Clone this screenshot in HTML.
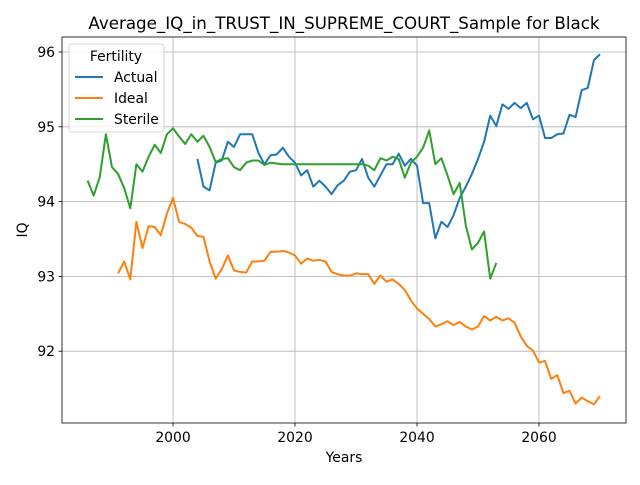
<!DOCTYPE html>
<html><head><meta charset="utf-8"><style>body{margin:0;background:#fff}svg{font-family:"DejaVu Sans","Liberation Sans",sans-serif}</style></head>
<body>
<svg id="chart" width="640" height="480" xmlns="http://www.w3.org/2000/svg"></svg>
<script>
const sterileYears=[1986,1987,1988,1989,1990,1991,1992,1993,1994,1995,1996,1997,1998,1999,2000,2001,2002,2003,2004,2005,2006,2007,2008,2009,2010,2011,2012,2013,2014,2015,2016,2017,2018,2019,2020,2021,2022,2023,2024,2025,2026,2027,2028,2029,2030,2031,2032,2033,2034,2035,2036,2037,2038,2039,2040,2041,2042,2043,2044,2045,2046,2047,2048,2049,2050,2051,2052,2053];
const sterileValues=[94.28,94.08,94.33,94.9,94.46,94.37,94.18,93.91,94.5,94.4,94.6,94.76,94.65,94.9,94.98,94.87,94.77,94.9,94.8,94.88,94.73,94.53,94.57,94.58,94.46,94.42,94.52,94.55,94.55,94.49,94.52,94.51,94.5,94.5,94.5,94.5,94.5,94.5,94.5,94.5,94.5,94.5,94.5,94.5,94.5,94.5,94.48,94.42,94.58,94.55,94.6,94.57,94.32,94.52,94.6,94.72,94.95,94.5,94.58,94.35,94.1,94.25,93.68,93.36,93.45,93.6,92.97,93.18];
const actualYears=[2004,2005,2006,2007,2008,2009,2010,2011,2012,2013,2014,2015,2016,2017,2018,2019,2020,2021,2022,2023,2024,2025,2026,2027,2028,2029,2030,2031,2032,2033,2034,2035,2036,2037,2038,2039,2040,2041,2042,2043,2044,2045,2046,2047,2048,2049,2050,2051,2052,2053,2054,2055,2056,2057,2058,2059,2060,2061,2062,2063,2064,2065,2066,2067,2068,2069,2070];
const actualValues=[94.57,94.2,94.15,94.52,94.55,94.8,94.73,94.9,94.9,94.9,94.65,94.5,94.62,94.63,94.72,94.6,94.52,94.35,94.42,94.2,94.28,94.2,94.1,94.22,94.28,94.4,94.42,94.57,94.32,94.2,94.35,94.5,94.5,94.64,94.48,94.57,94.48,93.98,93.98,93.51,93.73,93.66,93.82,94.05,94.2,94.37,94.57,94.8,95.15,95.01,95.3,95.24,95.32,95.25,95.32,95.1,95.15,94.85,94.85,94.9,94.91,95.16,95.13,95.49,95.52,95.89,95.97];
const idealYears=[1991,1992,1993,1994,1995,1996,1997,1998,1999,2000,2001,2002,2003,2004,2005,2006,2007,2008,2009,2010,2011,2012,2013,2014,2015,2016,2017,2018,2019,2020,2021,2022,2023,2024,2025,2026,2027,2028,2029,2030,2031,2032,2033,2034,2035,2036,2037,2038,2039,2040,2041,2042,2043,2044,2045,2046,2047,2048,2049,2050,2051,2052,2053,2054,2055,2056,2057,2058,2059,2060,2061,2062,2063,2064,2065,2066,2067,2068,2069,2070];
const idealValues=[93.04,93.2,92.96,93.73,93.38,93.67,93.66,93.55,93.84,94.05,93.73,93.7,93.65,93.54,93.53,93.2,92.97,93.1,93.28,93.08,93.06,93.05,93.2,93.2,93.21,93.33,93.33,93.34,93.32,93.28,93.17,93.24,93.21,93.22,93.2,93.06,93.03,93.01,93.01,93.04,93.03,93.03,92.9,93.01,92.93,92.96,92.9,92.82,92.68,92.57,92.5,92.43,92.33,92.36,92.4,92.35,92.39,92.33,92.29,92.33,92.47,92.41,92.46,92.41,92.44,92.38,92.2,92.07,92.01,91.85,91.87,91.63,91.68,91.44,91.47,91.3,91.38,91.33,91.29,91.4];
const xTicks=[2000,2020,2040,2060];
const yTicks=[92,93,94,95,96];

const L=62,R=626,T=37,B=423;
const xs=y=>173+(y-2000)*6.1;
const ys=v=>52+(96-v)*74.8;
const svg=document.getElementById('chart');
const NS='http://www.w3.org/2000/svg';
function mk(tag,attrs,parent){const e=document.createElementNS(NS,tag);for(const k in attrs)e.setAttribute(k,attrs[k]);(parent||svg).appendChild(e);return e;}

const grid=mk('g',{});


xTicks.forEach(t=>{
  mk('line',{x1:xs(t),x2:xs(t),y1:T,y2:B,stroke:'#b0b0b0','stroke-width':0.8},grid);
  mk('line',{x1:xs(t),x2:xs(t),y1:B,y2:B+3.5,stroke:'#000','stroke-width':0.8});
  const tx=mk('text',{x:xs(t),y:B+19,'text-anchor':'middle','font-size':13.9,fill:'#000'});
  tx.textContent=t;
  
  
});
yTicks.forEach(t=>{
  mk('line',{x1:L,x2:R,y1:ys(t),y2:ys(t),stroke:'#b0b0b0','stroke-width':0.8},grid);
  mk('line',{x1:L-3.5,x2:L,y1:ys(t),y2:ys(t),stroke:'#000','stroke-width':0.8});
  const tx=mk('text',{x:L-7,y:ys(t)+5,'text-anchor':'end','font-size':13.9,fill:'#000'});
  tx.textContent=t;
  
  
});

function series(years,vals,color,name){
  const p=mk('polyline',{points:years.map((y,i)=>xs(y)+','+ys(vals[i])).join(' '),fill:'none',stroke:color,'stroke-width':2,'stroke-linejoin':'round'});
  
  
}
series(actualYears,actualValues,'#1f77b4','actual-line');
series(idealYears,idealValues,'#ff7f0e','ideal-line');
series(sterileYears,sterileValues,'#2ca02c','sterile-line');

const frame=mk('rect',{x:L,y:T,width:R-L,height:B-T,fill:'none',stroke:'#000','stroke-width':0.8});



const title=mk('text',{x:344,y:29,'text-anchor':'middle','font-size':16.7,fill:'#000'});
title.textContent='Average_IQ_in_TRUST_IN_SUPREME_COURT_Sample for Black';


const xl=mk('text',{x:344,y:462,'text-anchor':'middle','font-size':13.9,fill:'#000'});
xl.textContent='Years';


const yl=mk('text',{x:27,y:230,'text-anchor':'middle','font-size':13.9,fill:'#000',transform:'rotate(-90 27 230)'});
yl.textContent='IQ';



const lg=mk('g',{});


mk('rect',{x:69,y:44,width:95,height:88,rx:3,fill:'#fff','fill-opacity':0.8,stroke:'#ccc','stroke-width':0.8},lg);
const lt=mk('text',{x:116,y:61,'text-anchor':'middle','font-size':13.9,fill:'#000'},lg);
lt.textContent='Fertility';


[['Actual','#1f77b4'],['Ideal','#ff7f0e'],['Sterile','#2ca02c']].forEach((d,i)=>{
  const y=77+i*21;
  const e=mk('g',{},lg);
  
  
  mk('line',{x1:75,x2:103,y1:y,y2:y,stroke:d[1],'stroke-width':2},e);
  const t=mk('text',{x:114,y:y+5,'font-size':13.9,fill:'#000'},e);
  t.textContent=d[0];
});
</script>
</body></html>
